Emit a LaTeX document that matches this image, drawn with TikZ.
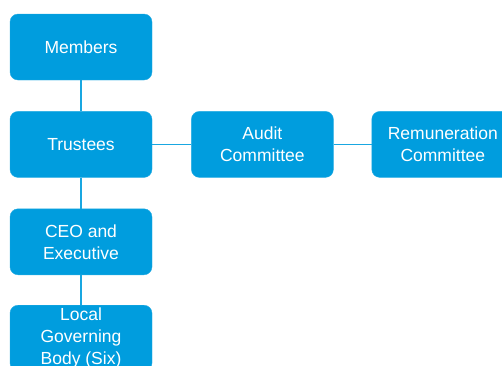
\documentclass[tikz,border=0pt]{standalone}
\usepackage{fontspec}
\setmainfont{Liberation Sans}
\usetikzlibrary{positioning}
\definecolor{orgblue}{RGB}{0,157,222}

\begin{document}
\begin{tikzpicture}[x=1pt,y=1pt,node distance=31pt and 39pt,
  every node/.style={font=\fontsize{17.5}{22}\selectfont},
  box/.style={rectangle,rounded corners=8pt,fill=orgblue,draw=orgblue!85!white,
    text=white,minimum width=142pt,minimum height=66pt,align=center,inner sep=0pt},
  link/.style={draw=orgblue!90!white,line width=1.3pt}]
\useasboundingbox (0,0) rectangle (502,-365);
\node[box] (members) at (81,-47) {Members};
\node[box,below=of members] (trustees) {Trustees};
\node[box,right=of trustees] (audit) {Audit\\Committee};
\node[box,right=38pt of audit] (remun) {Remuneration\\Committee};
\node[box,below=of trustees] (ceo) {CEO and\\Executive};
\node[box,below=30pt of ceo] (lgb) {Local\\Governing\\Body (Six)};
% connectors
\draw[link] (members) -- (trustees);
\draw[link] (trustees) -- (audit);
\draw[link] (audit) -- (remun);
\draw[link] (trustees) -- (ceo);
\draw[link] (ceo) -- (lgb);
\end{tikzpicture}
\end{document}
